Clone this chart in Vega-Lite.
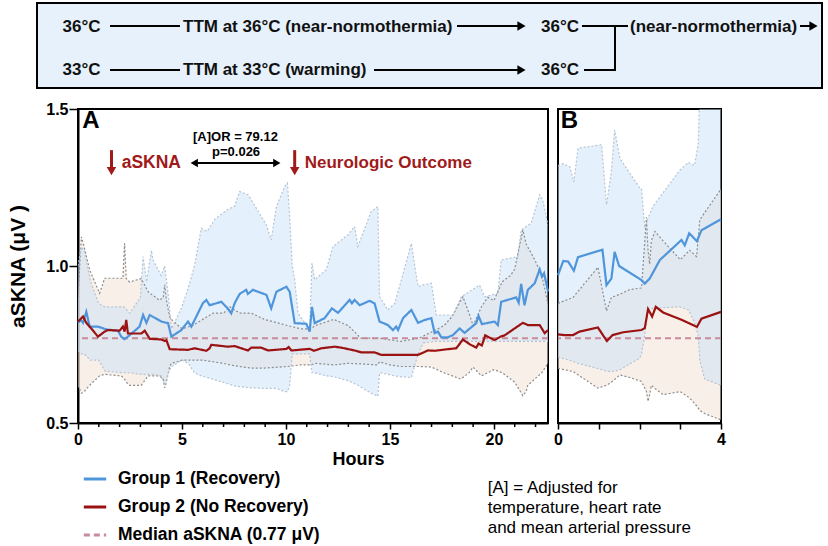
{
"$schema": "https://vega.github.io/schema/vega-lite/v6.json",
"background": "white",
"padding": {"left": 6, "top": 2, "right": 3, "bottom": 2},
"config": {"font": "Liberation Sans", "view": {"stroke": null}, "axis": {"labelOverlap": false}},
"datasets": {
"top_text": [
{"label": "36°C", "x": -15.5, "y": 24},
{"label": "TTM at 36°C (near-normothermia)", "x": 105, "y": 24},
{"label": "36°C", "x": 463, "y": 24},
{"label": "(near-normothermia)", "x": 552, "y": 24},
{"label": "33°C", "x": -15.5, "y": 67},
{"label": "TTM at 33°C (warming)", "x": 105, "y": 67},
{"label": "36°C", "x": 463, "y": 67}
],
"top_seg": [
{"x1": 32, "x2": 102, "y1": 23, "y2": 23},
{"x1": 379, "x2": 443, "y1": 23, "y2": 23},
{"x1": 504, "x2": 550, "y1": 23, "y2": 23},
{"x1": 537, "x2": 537, "y1": 23, "y2": 67},
{"x1": 722, "x2": 734, "y1": 23, "y2": 23},
{"x1": 32, "x2": 102, "y1": 67, "y2": 67},
{"x1": 296, "x2": 443, "y1": 67, "y2": 67},
{"x1": 506, "x2": 538, "y1": 67, "y2": 67}
],
"top_head": [
{"x": 443.5, "y": 23}, {"x": 443.5, "y": 67}, {"x": 735.5, "y": 23}
],
"hour_ticks": [
{"t":1},{"t":2},{"t":3},{"t":4},{"t":6},{"t":7},{"t":8},{"t":9},{"t":11},{"t":12},{"t":13},{"t":14},{"t":16},{"t":17},{"t":18},{"t":19},{"t":21},{"t":22}
],
"means": [
{"p":"A","g":"G1","t":0,"v":0.819},{"p":"A","g":"G1","t":0.13,"v":0.828},{"p":"A","g":"G1","t":0.24,"v":0.819},{"p":"A","g":"G1","t":0.4,"v":0.854},{"p":"A","g":"G1","t":0.56,"v":0.807},{"p":"A","g":"G1","t":0.96,"v":0.807},{"p":"A","g":"G1","t":1.36,"v":0.798},{"p":"A","g":"G1","t":1.92,"v":0.794},{"p":"A","g":"G1","t":2.08,"v":0.775},{"p":"A","g":"G1","t":2.24,"v":0.767},{"p":"A","g":"G1","t":2.4,"v":0.775},{"p":"A","g":"G1","t":2.96,"v":0.807},{"p":"A","g":"G1","t":3.13,"v":0.844},{"p":"A","g":"G1","t":3.29,"v":0.819},{"p":"A","g":"G1","t":3.45,"v":0.844},{"p":"A","g":"G1","t":4.01,"v":0.823},{"p":"A","g":"G1","t":4.33,"v":0.818},{"p":"A","g":"G1","t":4.49,"v":0.775},{"p":"A","g":"G1","t":4.97,"v":0.796},{"p":"A","g":"G1","t":5.29,"v":0.823},{"p":"A","g":"G1","t":5.45,"v":0.807},{"p":"A","g":"G1","t":6.0,"v":0.881},{"p":"A","g":"G1","t":6.17,"v":0.892},{"p":"A","g":"G1","t":6.33,"v":0.875},{"p":"A","g":"G1","t":6.89,"v":0.886},{"p":"A","g":"G1","t":7.2,"v":0.865},{"p":"A","g":"G1","t":7.37,"v":0.849},{"p":"A","g":"G1","t":7.53,"v":0.881},{"p":"A","g":"G1","t":7.77,"v":0.911},{"p":"A","g":"G1","t":8.09,"v":0.924},{"p":"A","g":"G1","t":8.17,"v":0.911},{"p":"A","g":"G1","t":8.41,"v":0.924},{"p":"A","g":"G1","t":9.06,"v":0.908},{"p":"A","g":"G1","t":9.29,"v":0.865},{"p":"A","g":"G1","t":9.54,"v":0.918},{"p":"A","g":"G1","t":10.02,"v":0.934},{"p":"A","g":"G1","t":10.18,"v":0.918},{"p":"A","g":"G1","t":10.42,"v":0.818},{"p":"A","g":"G1","t":10.98,"v":0.816},{"p":"A","g":"G1","t":11.14,"v":0.791},{"p":"A","g":"G1","t":11.25,"v":0.87},{"p":"A","g":"G1","t":11.38,"v":0.818},{"p":"A","g":"G1","t":11.86,"v":0.834},{"p":"A","g":"G1","t":12.21,"v":0.865},{"p":"A","g":"G1","t":12.5,"v":0.851},{"p":"A","g":"G1","t":13.06,"v":0.892},{"p":"A","g":"G1","t":13.17,"v":0.881},{"p":"A","g":"G1","t":13.3,"v":0.892},{"p":"A","g":"G1","t":13.54,"v":0.875},{"p":"A","g":"G1","t":14.02,"v":0.889},{"p":"A","g":"G1","t":14.26,"v":0.881},{"p":"A","g":"G1","t":14.5,"v":0.823},{"p":"A","g":"G1","t":14.9,"v":0.812},{"p":"A","g":"G1","t":15.14,"v":0.796},{"p":"A","g":"G1","t":15.3,"v":0.807},{"p":"A","g":"G1","t":15.39,"v":0.796},{"p":"A","g":"G1","t":15.63,"v":0.834},{"p":"A","g":"G1","t":16.03,"v":0.86},{"p":"A","g":"G1","t":16.35,"v":0.819},{"p":"A","g":"G1","t":16.67,"v":0.828},{"p":"A","g":"G1","t":16.99,"v":0.834},{"p":"A","g":"G1","t":17.15,"v":0.786},{"p":"A","g":"G1","t":17.31,"v":0.791},{"p":"A","g":"G1","t":17.47,"v":0.773},{"p":"A","g":"G1","t":17.79,"v":0.773},{"p":"A","g":"G1","t":18.03,"v":0.78},{"p":"A","g":"G1","t":18.35,"v":0.801},{"p":"A","g":"G1","t":18.59,"v":0.787},{"p":"A","g":"G1","t":19.15,"v":0.818},{"p":"A","g":"G1","t":19.26,"v":0.841},{"p":"A","g":"G1","t":19.42,"v":0.815},{"p":"A","g":"G1","t":20.03,"v":0.823},{"p":"A","g":"G1","t":20.19,"v":0.812},{"p":"A","g":"G1","t":20.35,"v":0.886},{"p":"A","g":"G1","t":21.07,"v":0.9},{"p":"A","g":"G1","t":21.19,"v":0.883},{"p":"A","g":"G1","t":21.31,"v":0.943},{"p":"A","g":"G1","t":21.47,"v":0.875},{"p":"A","g":"G1","t":21.63,"v":0.924},{"p":"A","g":"G1","t":21.96,"v":0.945},{"p":"A","g":"G1","t":22.2,"v":0.989},{"p":"A","g":"G1","t":22.31,"v":0.966},{"p":"A","g":"G1","t":22.41,"v":0.977},{"p":"A","g":"G1","t":22.6,"v":0.919},
{"p":"A","g":"G2","t":0,"v":0.823},{"p":"A","g":"G2","t":0.24,"v":0.839},{"p":"A","g":"G2","t":0.4,"v":0.819},{"p":"A","g":"G2","t":0.64,"v":0.801},{"p":"A","g":"G2","t":0.96,"v":0.775},{"p":"A","g":"G2","t":1.28,"v":0.791},{"p":"A","g":"G2","t":1.44,"v":0.796},{"p":"A","g":"G2","t":2.0,"v":0.794},{"p":"A","g":"G2","t":2.16,"v":0.807},{"p":"A","g":"G2","t":2.24,"v":0.791},{"p":"A","g":"G2","t":2.32,"v":0.828},{"p":"A","g":"G2","t":2.4,"v":0.785},{"p":"A","g":"G2","t":3.05,"v":0.785},{"p":"A","g":"G2","t":3.21,"v":0.794},{"p":"A","g":"G2","t":3.45,"v":0.768},{"p":"A","g":"G2","t":4.01,"v":0.766},{"p":"A","g":"G2","t":4.17,"v":0.761},{"p":"A","g":"G2","t":4.25,"v":0.764},{"p":"A","g":"G2","t":4.41,"v":0.735},{"p":"A","g":"G2","t":5.29,"v":0.733},{"p":"A","g":"G2","t":5.61,"v":0.738},{"p":"A","g":"G2","t":6.17,"v":0.73},{"p":"A","g":"G2","t":6.33,"v":0.738},{"p":"A","g":"G2","t":6.41,"v":0.749},{"p":"A","g":"G2","t":7.2,"v":0.743},{"p":"A","g":"G2","t":7.53,"v":0.745},{"p":"A","g":"G2","t":8.17,"v":0.731},{"p":"A","g":"G2","t":8.33,"v":0.74},{"p":"A","g":"G2","t":8.81,"v":0.74},{"p":"A","g":"G2","t":9.14,"v":0.731},{"p":"A","g":"G2","t":10.02,"v":0.736},{"p":"A","g":"G2","t":10.13,"v":0.742},{"p":"A","g":"G2","t":10.26,"v":0.731},{"p":"A","g":"G2","t":11.14,"v":0.736},{"p":"A","g":"G2","t":11.35,"v":0.73},{"p":"A","g":"G2","t":11.7,"v":0.738},{"p":"A","g":"G2","t":12.34,"v":0.743},{"p":"A","g":"G2","t":12.66,"v":0.74},{"p":"A","g":"G2","t":13.3,"v":0.731},{"p":"A","g":"G2","t":13.62,"v":0.725},{"p":"A","g":"G2","t":14.26,"v":0.725},{"p":"A","g":"G2","t":14.58,"v":0.717},{"p":"A","g":"G2","t":16.35,"v":0.717},{"p":"A","g":"G2","t":16.83,"v":0.731},{"p":"A","g":"G2","t":17.15,"v":0.73},{"p":"A","g":"G2","t":17.63,"v":0.734},{"p":"A","g":"G2","t":18.19,"v":0.738},{"p":"A","g":"G2","t":18.51,"v":0.766},{"p":"A","g":"G2","t":18.83,"v":0.751},{"p":"A","g":"G2","t":19.15,"v":0.74},{"p":"A","g":"G2","t":19.26,"v":0.753},{"p":"A","g":"G2","t":19.42,"v":0.747},{"p":"A","g":"G2","t":19.58,"v":0.779},{"p":"A","g":"G2","t":20.03,"v":0.764},{"p":"A","g":"G2","t":20.35,"v":0.776},{"p":"A","g":"G2","t":20.51,"v":0.779},{"p":"A","g":"G2","t":21.39,"v":0.819},{"p":"A","g":"G2","t":21.63,"v":0.812},{"p":"A","g":"G2","t":22.2,"v":0.812},{"p":"A","g":"G2","t":22.44,"v":0.786},{"p":"A","g":"G2","t":22.6,"v":0.796},
{"p":"B","g":"G1","t":0,"v":0.971},{"p":"B","g":"G1","t":0.13,"v":1.016},{"p":"B","g":"G1","t":0.25,"v":1.014},{"p":"B","g":"G1","t":0.39,"v":0.985},{"p":"B","g":"G1","t":0.49,"v":1.028},{"p":"B","g":"G1","t":1.09,"v":1.052},{"p":"B","g":"G1","t":1.19,"v":0.939},{"p":"B","g":"G1","t":1.31,"v":0.96},{"p":"B","g":"G1","t":1.39,"v":1.045},{"p":"B","g":"G1","t":1.5,"v":1.0},{"p":"B","g":"G1","t":2.05,"v":0.955},{"p":"B","g":"G1","t":2.13,"v":0.944},{"p":"B","g":"G1","t":2.25,"v":0.96},{"p":"B","g":"G1","t":2.5,"v":1.019},{"p":"B","g":"G1","t":3.03,"v":1.083},{"p":"B","g":"G1","t":3.11,"v":1.066},{"p":"B","g":"G1","t":3.22,"v":1.104},{"p":"B","g":"G1","t":3.41,"v":1.079},{"p":"B","g":"G1","t":3.52,"v":1.114},{"p":"B","g":"G1","t":4.0,"v":1.149},
{"p":"B","g":"G2","t":0,"v":0.782},{"p":"B","g":"G2","t":0.16,"v":0.78},{"p":"B","g":"G2","t":0.37,"v":0.78},{"p":"B","g":"G2","t":0.53,"v":0.791},{"p":"B","g":"G2","t":0.98,"v":0.804},{"p":"B","g":"G2","t":1.2,"v":0.761},{"p":"B","g":"G2","t":1.34,"v":0.78},{"p":"B","g":"G2","t":1.6,"v":0.789},{"p":"B","g":"G2","t":2.05,"v":0.796},{"p":"B","g":"G2","t":2.13,"v":0.802},{"p":"B","g":"G2","t":2.21,"v":0.863},{"p":"B","g":"G2","t":2.31,"v":0.839},{"p":"B","g":"G2","t":2.4,"v":0.87},{"p":"B","g":"G2","t":2.58,"v":0.852},{"p":"B","g":"G2","t":3.03,"v":0.829},{"p":"B","g":"G2","t":3.23,"v":0.817},{"p":"B","g":"G2","t":3.41,"v":0.806},{"p":"B","g":"G2","t":3.52,"v":0.832},{"p":"B","g":"G2","t":4.0,"v":0.854}
],
"bands": [
{"p":"A","g":"G1","t":0,"lo":0.73,"hi":1.0},{"p":"A","g":"G1","t":0.16,"lo":0.72,"hi":1.06},{"p":"A","g":"G1","t":0.3,"lo":0.72,"hi":1.05},{"p":"A","g":"G1","t":0.6,"lo":0.7,"hi":0.95},{"p":"A","g":"G1","t":1.0,"lo":0.7,"hi":0.88},{"p":"A","g":"G1","t":1.3,"lo":0.665,"hi":0.87},{"p":"A","g":"G1","t":2.2,"lo":0.66,"hi":0.87},{"p":"A","g":"G1","t":2.5,"lo":0.66,"hi":0.85},{"p":"A","g":"G1","t":3.0,"lo":0.655,"hi":0.9},{"p":"A","g":"G1","t":3.13,"lo":0.655,"hi":1.03},{"p":"A","g":"G1","t":3.3,"lo":0.655,"hi":0.95},{"p":"A","g":"G1","t":3.53,"lo":0.655,"hi":1.05},{"p":"A","g":"G1","t":3.6,"lo":0.655,"hi":1.02},{"p":"A","g":"G1","t":4.0,"lo":0.65,"hi":0.97},{"p":"A","g":"G1","t":4.17,"lo":0.62,"hi":1.0},{"p":"A","g":"G1","t":4.35,"lo":0.66,"hi":0.9},{"p":"A","g":"G1","t":4.5,"lo":0.68,"hi":0.8},{"p":"A","g":"G1","t":5.0,"lo":0.7,"hi":0.87},{"p":"A","g":"G1","t":5.3,"lo":0.69,"hi":0.93},{"p":"A","g":"G1","t":5.6,"lo":0.66,"hi":1.0},{"p":"A","g":"G1","t":5.93,"lo":0.65,"hi":1.12},{"p":"A","g":"G1","t":6.2,"lo":0.645,"hi":1.11},{"p":"A","g":"G1","t":6.6,"lo":0.637,"hi":1.15},{"p":"A","g":"G1","t":7.2,"lo":0.625,"hi":1.18},{"p":"A","g":"G1","t":7.53,"lo":0.618,"hi":1.19},{"p":"A","g":"G1","t":7.77,"lo":0.616,"hi":1.237},{"p":"A","g":"G1","t":8.17,"lo":0.613,"hi":1.227},{"p":"A","g":"G1","t":8.33,"lo":0.612,"hi":1.211},{"p":"A","g":"G1","t":9.06,"lo":0.61,"hi":1.13},{"p":"A","g":"G1","t":9.29,"lo":0.61,"hi":1.083},{"p":"A","g":"G1","t":9.54,"lo":0.61,"hi":1.189},{"p":"A","g":"G1","t":9.94,"lo":0.6,"hi":1.253},{"p":"A","g":"G1","t":10.07,"lo":0.6,"hi":1.264},{"p":"A","g":"G1","t":10.18,"lo":0.62,"hi":1.157},{"p":"A","g":"G1","t":10.3,"lo":0.72,"hi":1.0},{"p":"A","g":"G1","t":10.42,"lo":0.72,"hi":0.956},{"p":"A","g":"G1","t":10.58,"lo":0.72,"hi":0.85},{"p":"A","g":"G1","t":11.14,"lo":0.72,"hi":0.797},{"p":"A","g":"G1","t":11.25,"lo":0.66,"hi":1.009},{"p":"A","g":"G1","t":11.38,"lo":0.66,"hi":0.956},{"p":"A","g":"G1","t":11.94,"lo":0.65,"hi":0.988},{"p":"A","g":"G1","t":12.26,"lo":0.648,"hi":1.062},{"p":"A","g":"G1","t":12.98,"lo":0.635,"hi":1.099},{"p":"A","g":"G1","t":13.3,"lo":0.625,"hi":1.126},{"p":"A","g":"G1","t":13.46,"lo":0.62,"hi":1.062},{"p":"A","g":"G1","t":14.1,"lo":0.595,"hi":1.174},{"p":"A","g":"G1","t":14.42,"lo":0.585,"hi":1.189},{"p":"A","g":"G1","t":14.5,"lo":0.66,"hi":0.903},{"p":"A","g":"G1","t":14.9,"lo":0.655,"hi":0.86},{"p":"A","g":"G1","t":15.23,"lo":0.65,"hi":0.881},{"p":"A","g":"G1","t":15.55,"lo":0.647,"hi":0.956},{"p":"A","g":"G1","t":16.03,"lo":0.645,"hi":1.072},{"p":"A","g":"G1","t":16.35,"lo":0.72,"hi":0.934},{"p":"A","g":"G1","t":16.6,"lo":0.755,"hi":0.94},{"p":"A","g":"G1","t":16.99,"lo":0.758,"hi":0.945},{"p":"A","g":"G1","t":17.23,"lo":0.76,"hi":0.844},{"p":"A","g":"G1","t":18.03,"lo":0.76,"hi":0.844},{"p":"A","g":"G1","t":18.43,"lo":0.76,"hi":0.902},{"p":"A","g":"G1","t":19.31,"lo":0.76,"hi":0.939},{"p":"A","g":"G1","t":19.55,"lo":0.76,"hi":0.902},{"p":"A","g":"G1","t":20.19,"lo":0.76,"hi":0.913},{"p":"A","g":"G1","t":20.35,"lo":0.76,"hi":1.019},{"p":"A","g":"G1","t":21.15,"lo":0.76,"hi":1.03},{"p":"A","g":"G1","t":21.31,"lo":0.76,"hi":1.115},{"p":"A","g":"G1","t":21.79,"lo":0.76,"hi":1.136},{"p":"A","g":"G1","t":22.2,"lo":0.76,"hi":1.227},{"p":"A","g":"G1","t":22.35,"lo":0.76,"hi":1.21},{"p":"A","g":"G1","t":22.6,"lo":0.76,"hi":1.13},
{"p":"A","g":"G2","t":0,"lo":0.62,"hi":0.9},{"p":"A","g":"G2","t":0.16,"lo":0.595,"hi":1.093},{"p":"A","g":"G2","t":0.3,"lo":0.6,"hi":1.06},{"p":"A","g":"G2","t":0.56,"lo":0.62,"hi":0.987},{"p":"A","g":"G2","t":1.04,"lo":0.65,"hi":0.913},{"p":"A","g":"G2","t":1.28,"lo":0.655,"hi":0.961},{"p":"A","g":"G2","t":2.08,"lo":0.65,"hi":0.961},{"p":"A","g":"G2","t":2.16,"lo":0.645,"hi":0.96},{"p":"A","g":"G2","t":2.24,"lo":0.64,"hi":1.072},{"p":"A","g":"G2","t":2.32,"lo":0.63,"hi":0.96},{"p":"A","g":"G2","t":2.48,"lo":0.62,"hi":0.949},{"p":"A","g":"G2","t":3.04,"lo":0.62,"hi":0.96},{"p":"A","g":"G2","t":3.37,"lo":0.65,"hi":0.918},{"p":"A","g":"G2","t":3.92,"lo":0.65,"hi":0.891},{"p":"A","g":"G2","t":4.1,"lo":0.64,"hi":0.9},{"p":"A","g":"G2","t":4.17,"lo":0.612,"hi":0.94},{"p":"A","g":"G2","t":4.25,"lo":0.63,"hi":0.891},{"p":"A","g":"G2","t":4.41,"lo":0.68,"hi":0.838},{"p":"A","g":"G2","t":4.49,"lo":0.69,"hi":0.83},{"p":"A","g":"G2","t":5.0,"lo":0.7,"hi":0.8},{"p":"A","g":"G2","t":5.5,"lo":0.7,"hi":0.81},{"p":"A","g":"G2","t":6.0,"lo":0.7,"hi":0.83},{"p":"A","g":"G2","t":6.5,"lo":0.695,"hi":0.85},{"p":"A","g":"G2","t":7.0,"lo":0.69,"hi":0.85},{"p":"A","g":"G2","t":7.3,"lo":0.685,"hi":0.87},{"p":"A","g":"G2","t":7.77,"lo":0.68,"hi":0.85},{"p":"A","g":"G2","t":8.33,"lo":0.675,"hi":0.85},{"p":"A","g":"G2","t":8.97,"lo":0.675,"hi":0.83},{"p":"A","g":"G2","t":10.1,"lo":0.68,"hi":0.81},{"p":"A","g":"G2","t":10.7,"lo":0.685,"hi":0.8},{"p":"A","g":"G2","t":11.2,"lo":0.685,"hi":0.8},{"p":"A","g":"G2","t":11.4,"lo":0.69,"hi":0.81},{"p":"A","g":"G2","t":12.3,"lo":0.685,"hi":0.83},{"p":"A","g":"G2","t":13.0,"lo":0.69,"hi":0.81},{"p":"A","g":"G2","t":13.6,"lo":0.688,"hi":0.77},{"p":"A","g":"G2","t":14.4,"lo":0.685,"hi":0.77},{"p":"A","g":"G2","t":14.5,"lo":0.695,"hi":0.77},{"p":"A","g":"G2","t":15.0,"lo":0.685,"hi":0.765},{"p":"A","g":"G2","t":15.5,"lo":0.68,"hi":0.76},{"p":"A","g":"G2","t":16.4,"lo":0.68,"hi":0.77},{"p":"A","g":"G2","t":17.0,"lo":0.678,"hi":0.79},{"p":"A","g":"G2","t":17.6,"lo":0.66,"hi":0.81},{"p":"A","g":"G2","t":18.0,"lo":0.65,"hi":0.84},{"p":"A","g":"G2","t":18.4,"lo":0.64,"hi":0.89},{"p":"A","g":"G2","t":18.51,"lo":0.645,"hi":0.902},{"p":"A","g":"G2","t":18.8,"lo":0.66,"hi":0.85},{"p":"A","g":"G2","t":19.0,"lo":0.678,"hi":0.81},{"p":"A","g":"G2","t":19.4,"lo":0.65,"hi":0.87},{"p":"A","g":"G2","t":19.7,"lo":0.66,"hi":0.9},{"p":"A","g":"G2","t":20.0,"lo":0.67,"hi":0.89},{"p":"A","g":"G2","t":20.4,"lo":0.66,"hi":0.95},{"p":"A","g":"G2","t":20.8,"lo":0.64,"hi":0.97},{"p":"A","g":"G2","t":21.0,"lo":0.63,"hi":0.99},{"p":"A","g":"G2","t":21.39,"lo":0.587,"hi":1.115},{"p":"A","g":"G2","t":21.55,"lo":0.6,"hi":1.07},{"p":"A","g":"G2","t":21.63,"lo":0.62,"hi":1.06},{"p":"A","g":"G2","t":21.96,"lo":0.64,"hi":1.02},{"p":"A","g":"G2","t":22.3,"lo":0.66,"hi":0.97},{"p":"A","g":"G2","t":22.6,"lo":0.69,"hi":0.88},
{"p":"B","g":"G1","t":0,"lo":0.71,"hi":1.32},{"p":"B","g":"G1","t":0.13,"lo":0.705,"hi":1.326},{"p":"B","g":"G1","t":0.29,"lo":0.7,"hi":1.316},{"p":"B","g":"G1","t":0.39,"lo":0.695,"hi":1.268},{"p":"B","g":"G1","t":0.49,"lo":0.69,"hi":1.375},{"p":"B","g":"G1","t":1.07,"lo":0.67,"hi":1.386},{"p":"B","g":"G1","t":1.19,"lo":0.665,"hi":1.195},{"p":"B","g":"G1","t":1.31,"lo":0.664,"hi":1.3},{"p":"B","g":"G1","t":1.39,"lo":0.665,"hi":1.433},{"p":"B","g":"G1","t":1.52,"lo":0.67,"hi":1.342},{"p":"B","g":"G1","t":2.0,"lo":0.706,"hi":1.25},{"p":"B","g":"G1","t":2.05,"lo":0.72,"hi":1.246},{"p":"B","g":"G1","t":2.13,"lo":0.78,"hi":1.12},{"p":"B","g":"G1","t":2.2,"lo":0.86,"hi":1.15},{"p":"B","g":"G1","t":2.33,"lo":0.865,"hi":1.19},{"p":"B","g":"G1","t":2.99,"lo":0.87,"hi":1.305},{"p":"B","g":"G1","t":3.2,"lo":0.86,"hi":1.33},{"p":"B","g":"G1","t":3.35,"lo":0.82,"hi":1.32},{"p":"B","g":"G1","t":3.44,"lo":0.78,"hi":1.386},{"p":"B","g":"G1","t":3.48,"lo":0.7,"hi":1.55},{"p":"B","g":"G1","t":3.6,"lo":0.64,"hi":1.55},{"p":"B","g":"G1","t":4.0,"lo":0.62,"hi":1.55},
{"p":"B","g":"G2","t":0,"lo":0.674,"hi":0.881},{"p":"B","g":"G2","t":0.37,"lo":0.664,"hi":0.9},{"p":"B","g":"G2","t":0.98,"lo":0.611,"hi":0.996},{"p":"B","g":"G2","t":1.19,"lo":0.62,"hi":0.857},{"p":"B","g":"G2","t":1.31,"lo":0.63,"hi":0.9},{"p":"B","g":"G2","t":1.52,"lo":0.653,"hi":0.91},{"p":"B","g":"G2","t":1.76,"lo":0.645,"hi":0.925},{"p":"B","g":"G2","t":2.05,"lo":0.632,"hi":0.93},{"p":"B","g":"G2","t":2.17,"lo":0.6,"hi":1.155},{"p":"B","g":"G2","t":2.21,"lo":0.569,"hi":1.05},{"p":"B","g":"G2","t":2.25,"lo":0.59,"hi":1.006},{"p":"B","g":"G2","t":2.29,"lo":0.62,"hi":1.08},{"p":"B","g":"G2","t":2.38,"lo":0.61,"hi":1.11},{"p":"B","g":"G2","t":2.58,"lo":0.59,"hi":1.08},{"p":"B","g":"G2","t":3.0,"lo":0.6,"hi":1.02},{"p":"B","g":"G2","t":3.23,"lo":0.58,"hi":1.05},{"p":"B","g":"G2","t":3.4,"lo":0.555,"hi":1.03},{"p":"B","g":"G2","t":3.48,"lo":0.54,"hi":1.147},{"p":"B","g":"G2","t":3.6,"lo":0.53,"hi":1.17},{"p":"B","g":"G2","t":4.0,"lo":0.51,"hi":1.245}
]
},
"resolve": {"scale": {"x": "independent", "y": "independent", "color": "independent", "strokeDash": "independent"}},
"bounds": "flush",
"spacing": 21,
"vconcat": [
{
"width": 744, "height": 85,
"layer": [
{"data": {"values": [{}]}, "mark": {"type": "rect", "fill": "#e6f1fb", "stroke": "black", "strokeWidth": 2},
 "encoding": {"x": {"datum": -41, "type": "quantitative", "scale": {"domain": [0, 744], "nice": false, "zero": false}, "axis": null}, "x2": {"datum": 744},
  "y": {"datum": 0, "type": "quantitative", "scale": {"domain": [85, 0], "nice": false, "zero": false}, "axis": null}, "y2": {"datum": 85}}},
{"data": {"name": "top_seg"}, "mark": {"type": "rule", "color": "black", "strokeWidth": 2},
 "encoding": {"x": {"field": "x1", "type": "quantitative"}, "x2": {"field": "x2"}, "y": {"field": "y1", "type": "quantitative"}, "y2": {"field": "y2"}}},
{"data": {"name": "top_head"}, "mark": {"type": "point", "shape": "triangle-right", "filled": true, "color": "black", "opacity": 1, "size": 90},
 "encoding": {"x": {"field": "x", "type": "quantitative"}, "y": {"field": "y", "type": "quantitative"}}},
{"data": {"name": "top_text"}, "mark": {"type": "text", "align": "left", "baseline": "middle", "fontSize": 17, "fontWeight": "bold", "color": "#111111"},
 "encoding": {"x": {"field": "x", "type": "quantitative"}, "y": {"field": "y", "type": "quantitative"}, "text": {"field": "label"}}}
]
},
{
"hconcat": [
{
"width": 470, "height": 314,
"view": {"stroke": "black", "strokeWidth": 2},
"layer": [
{"data": {"name": "bands"}, "transform": [{"filter": "datum.p === 'A' && datum.g === 'G2'"}],
 "mark": {"type": "area", "color": "#f3e1d6", "opacity": 0.55, "clip": true},
 "encoding": {
  "x": {"field": "t", "type": "quantitative", "scale": {"domain": [0, 22.6], "nice": false, "zero": false},
   "axis": {"values": [0, 5, 10, 15, 20], "format": "d", "tickSize": 6, "tickWidth": 1.5, "tickColor": "black", "domainColor": "black", "domainWidth": 2, "labelFontSize": 16, "labelFontWeight": "bold", "labelColor": "black", "labelPadding": 2, "labelFlush": false, "labelOverlap": false, "grid": false, "title": "Hours", "titleFontSize": 18, "titleFontWeight": "bold", "titleColor": "black", "titlePadding": 3, "titleX": 280}},
  "y": {"field": "hi", "type": "quantitative", "scale": {"domain": [0.5, 1.5], "nice": false, "zero": false},
   "axis": {"values": [0.5, 1.0, 1.5], "format": ".1f", "tickSize": 9, "tickWidth": 1.5, "tickColor": "black", "domainColor": "black", "domainWidth": 2, "labelFontSize": 16, "labelFontWeight": "bold", "labelColor": "black", "labelPadding": 1, "grid": false, "title": "aSKNA (μV )", "titleFontSize": 21, "titleFontWeight": "bold", "titleColor": "black", "titlePadding": 17}},
  "y2": {"field": "lo"}}},
{"data": {"name": "bands"}, "transform": [{"filter": "datum.p === 'A' && datum.g === 'G1'"}],
 "mark": {"type": "area", "color": "#c9e1f7", "opacity": 0.5, "clip": true},
 "encoding": {"x": {"field": "t", "type": "quantitative"}, "y": {"field": "hi", "type": "quantitative"}, "y2": {"field": "lo"}}},
{"data": {"name": "bands"}, "transform": [{"filter": "datum.p === 'A' && datum.g === 'G2'"}],
 "mark": {"type": "line", "color": "#8c8c8c", "strokeWidth": 1.2, "strokeDash": [2, 2], "clip": true},
 "encoding": {"x": {"field": "t", "type": "quantitative"}, "y": {"field": "hi", "type": "quantitative"}}},
{"data": {"name": "bands"}, "transform": [{"filter": "datum.p === 'A' && datum.g === 'G2'"}],
 "mark": {"type": "line", "color": "#8c8c8c", "strokeWidth": 1.2, "strokeDash": [2, 2], "clip": true},
 "encoding": {"x": {"field": "t", "type": "quantitative"}, "y": {"field": "lo", "type": "quantitative"}}},
{"data": {"name": "bands"}, "transform": [{"filter": "datum.p === 'A' && datum.g === 'G1'"}],
 "mark": {"type": "line", "color": "#b5c4d3", "strokeWidth": 1.2, "strokeDash": [2, 2], "clip": true},
 "encoding": {"x": {"field": "t", "type": "quantitative"}, "y": {"field": "hi", "type": "quantitative"}}},
{"data": {"name": "bands"}, "transform": [{"filter": "datum.p === 'A' && datum.g === 'G1'"}],
 "mark": {"type": "line", "color": "#b5c4d3", "strokeWidth": 1.2, "strokeDash": [2, 2], "clip": true},
 "encoding": {"x": {"field": "t", "type": "quantitative"}, "y": {"field": "lo", "type": "quantitative"}}},
{"data": {"name": "hour_ticks"}, "mark": {"type": "rule", "color": "black", "strokeWidth": 1.5},
 "encoding": {"x": {"field": "t", "type": "quantitative"}, "y": {"datum": 0.5, "type": "quantitative"}, "y2": {"datum": 0.4873}}},
{"data": {"values": [{"g": "M"}]}, "mark": {"type": "rule", "strokeWidth": 2},
 "encoding": {"y": {"datum": 0.77, "type": "quantitative"},
  "color": {"field": "g", "type": "nominal", "scale": {"domain": ["G1", "G2", "M"], "range": ["#4f95dc", "#9b1212", "#c98b9b"]},
   "legend": {"orient": "none", "legendX": 4, "legendY": 357, "title": null, "symbolType": "stroke", "symbolStrokeWidth": 3, "symbolSize": 500, "labelFontSize": 17.5, "labelFontWeight": "bold", "labelColor": "black", "labelOffset": 10, "labelLimit": 400, "rowPadding": 6, "labelExpr": "datum.label === 'G1' ? 'Group 1 (Recovery)' : datum.label === 'G2' ? 'Group 2  (No Recovery)' : 'Median aSKNA  (0.77 μV)'"}},
  "strokeDash": {"field": "g", "type": "nominal", "scale": {"domain": ["G1", "G2", "M"], "range": [[1, 0], [1, 0], [6, 4]]},
   "legend": {"orient": "none", "legendX": 4, "legendY": 357, "title": null, "symbolType": "stroke", "symbolStrokeWidth": 3, "symbolSize": 500, "labelFontSize": 17.5, "labelFontWeight": "bold", "labelColor": "black", "labelOffset": 10, "labelLimit": 400, "rowPadding": 6, "labelExpr": "datum.label === 'G1' ? 'Group 1 (Recovery)' : datum.label === 'G2' ? 'Group 2  (No Recovery)' : 'Median aSKNA  (0.77 μV)'"}}}},
{"data": {"name": "means"}, "transform": [{"filter": "datum.p === 'A'"}],
 "mark": {"type": "line", "strokeWidth": 2.2},
 "encoding": {"x": {"field": "t", "type": "quantitative"}, "y": {"field": "v", "type": "quantitative"},
  "color": {"field": "g", "type": "nominal"}, "strokeDash": {"field": "g", "type": "nominal"}}},
{"data": {"values": [{}]}, "mark": {"type": "text", "align": "left", "baseline": "middle", "fontSize": 24, "fontWeight": "bold", "color": "black"},
 "encoding": {"x": {"datum": 0.21, "type": "quantitative"}, "y": {"datum": 1.462, "type": "quantitative"}, "text": {"value": "A"}}},
{"data": {"values": [{}]}, "mark": {"type": "text", "align": "center", "baseline": "middle", "fontSize": 13, "fontWeight": "bold", "color": "black"},
 "encoding": {"x": {"datum": 7.57, "type": "quantitative"}, "y": {"datum": 1.411, "type": "quantitative"}, "text": {"value": "[A]OR = 79.12"}}},
{"data": {"values": [{}]}, "mark": {"type": "text", "align": "center", "baseline": "middle", "fontSize": 13, "fontWeight": "bold", "color": "black"},
 "encoding": {"x": {"datum": 7.6, "type": "quantitative"}, "y": {"datum": 1.363, "type": "quantitative"}, "text": {"value": "p=0.026"}}},
{"data": {"values": [{}]}, "mark": {"type": "rule", "color": "black", "strokeWidth": 2},
 "encoding": {"x": {"datum": 5.59, "type": "quantitative"}, "x2": {"datum": 9.56}, "y": {"datum": 1.328, "type": "quantitative"}}},
{"data": {"values": [{"t": 5.59, "s": "triangle-left"}, {"t": 9.56, "s": "triangle-right"}]}, "mark": {"type": "point", "filled": true, "color": "black", "opacity": 1, "size": 70},
 "encoding": {"x": {"field": "t", "type": "quantitative"}, "y": {"datum": 1.328, "type": "quantitative"}, "shape": {"field": "s", "type": "nominal", "scale": null}}},
{"data": {"values": [{"t": 1.61}, {"t": 10.42}]}, "mark": {"type": "rule", "color": "#a11a1a", "strokeWidth": 3},
 "encoding": {"x": {"field": "t", "type": "quantitative"}, "y": {"datum": 1.369, "type": "quantitative"}, "y2": {"datum": 1.31}}},
{"data": {"values": [{"t": 1.61}, {"t": 10.42}]}, "mark": {"type": "point", "shape": "triangle-down", "filled": true, "color": "#a11a1a", "opacity": 1, "size": 90},
 "encoding": {"x": {"field": "t", "type": "quantitative"}, "y": {"datum": 1.302, "type": "quantitative"}}},
{"data": {"values": [{}]}, "mark": {"type": "text", "align": "left", "baseline": "middle", "fontSize": 17.5, "fontWeight": "bold", "color": "#a11a1a"},
 "encoding": {"x": {"datum": 2.1, "type": "quantitative"}, "y": {"datum": 1.328, "type": "quantitative"}, "text": {"value": "aSKNA"}}},
{"data": {"values": [{}]}, "mark": {"type": "text", "align": "left", "baseline": "middle", "fontSize": 17, "fontWeight": "bold", "color": "#a11a1a"},
 "encoding": {"x": {"datum": 10.9, "type": "quantitative"}, "y": {"datum": 1.328, "type": "quantitative"}, "text": {"value": "Neurologic Outcome"}}},
{"data": {"values": [{}]}, "mark": {"type": "text", "align": "left", "baseline": "middle", "fontSize": 17, "lineHeight": 20, "color": "black"},
 "encoding": {"x": {"datum": 19.7, "type": "quantitative"}, "y": {"datum": 0.293, "type": "quantitative"}, "text": {"value": ["[A] = Adjusted for", "temperature, heart rate", "and mean arterial pressure"]}}}
]
},
{
"width": 163, "height": 314,
"view": {"stroke": "black", "strokeWidth": 2},
"layer": [
{"data": {"name": "bands"}, "transform": [{"filter": "datum.p === 'B' && datum.g === 'G2'"}],
 "mark": {"type": "area", "color": "#f3e1d6", "opacity": 0.55, "clip": true},
 "encoding": {
  "x": {"field": "t", "type": "quantitative", "scale": {"domain": [0, 4], "nice": false, "zero": false},
   "axis": {"values": [0, 1, 2, 3, 4], "labelExpr": "datum.value === 0 || datum.value === 4 ? datum.label : ''", "tickSize": 6, "tickWidth": 1.5, "tickColor": "black", "domainColor": "black", "domainWidth": 2, "labelFontSize": 16, "labelFontWeight": "bold", "labelColor": "black", "labelPadding": 2, "labelFlush": false, "labelOverlap": false, "grid": false, "title": null}},
  "y": {"field": "hi", "type": "quantitative", "scale": {"domain": [0.5, 1.5], "nice": false, "zero": false}, "axis": null},
  "y2": {"field": "lo"}}},
{"data": {"name": "bands"}, "transform": [{"filter": "datum.p === 'B' && datum.g === 'G1'"}],
 "mark": {"type": "area", "color": "#c9e1f7", "opacity": 0.5, "clip": true},
 "encoding": {"x": {"field": "t", "type": "quantitative"}, "y": {"field": "hi", "type": "quantitative"}, "y2": {"field": "lo"}}},
{"data": {"name": "bands"}, "transform": [{"filter": "datum.p === 'B' && datum.g === 'G2'"}],
 "mark": {"type": "line", "color": "#8c8c8c", "strokeWidth": 1.2, "strokeDash": [2, 2], "clip": true},
 "encoding": {"x": {"field": "t", "type": "quantitative"}, "y": {"field": "hi", "type": "quantitative"}}},
{"data": {"name": "bands"}, "transform": [{"filter": "datum.p === 'B' && datum.g === 'G2'"}],
 "mark": {"type": "line", "color": "#8c8c8c", "strokeWidth": 1.2, "strokeDash": [2, 2], "clip": true},
 "encoding": {"x": {"field": "t", "type": "quantitative"}, "y": {"field": "lo", "type": "quantitative"}}},
{"data": {"name": "bands"}, "transform": [{"filter": "datum.p === 'B' && datum.g === 'G1'"}],
 "mark": {"type": "line", "color": "#b5c4d3", "strokeWidth": 1.2, "strokeDash": [2, 2], "clip": true},
 "encoding": {"x": {"field": "t", "type": "quantitative"}, "y": {"field": "hi", "type": "quantitative"}}},
{"data": {"name": "bands"}, "transform": [{"filter": "datum.p === 'B' && datum.g === 'G1'"}],
 "mark": {"type": "line", "color": "#b5c4d3", "strokeWidth": 1.2, "strokeDash": [2, 2], "clip": true},
 "encoding": {"x": {"field": "t", "type": "quantitative"}, "y": {"field": "lo", "type": "quantitative"}}},
{"data": {"values": [{}]}, "mark": {"type": "rule", "color": "#c98b9b", "strokeWidth": 2, "strokeDash": [6, 4]},
 "encoding": {"y": {"datum": 0.77, "type": "quantitative"}}},
{"data": {"name": "means"}, "transform": [{"filter": "datum.p === 'B' && datum.g === 'G1'"}],
 "mark": {"type": "line", "color": "#4f95dc", "strokeWidth": 2.2},
 "encoding": {"x": {"field": "t", "type": "quantitative"}, "y": {"field": "v", "type": "quantitative"}}},
{"data": {"name": "means"}, "transform": [{"filter": "datum.p === 'B' && datum.g === 'G2'"}],
 "mark": {"type": "line", "color": "#9b1212", "strokeWidth": 2.2},
 "encoding": {"x": {"field": "t", "type": "quantitative"}, "y": {"field": "v", "type": "quantitative"}}},
{"data": {"values": [{}]}, "mark": {"type": "text", "align": "left", "baseline": "middle", "fontSize": 24, "fontWeight": "bold", "color": "black"},
 "encoding": {"x": {"datum": 0.07, "type": "quantitative"}, "y": {"datum": 1.462, "type": "quantitative"}, "text": {"value": "B"}}}
]
}
],
"spacing": 10,
"bounds": "flush",
"resolve": {"scale": {"x": "independent", "y": "independent", "color": "independent", "strokeDash": "independent"}}
}
]
}
